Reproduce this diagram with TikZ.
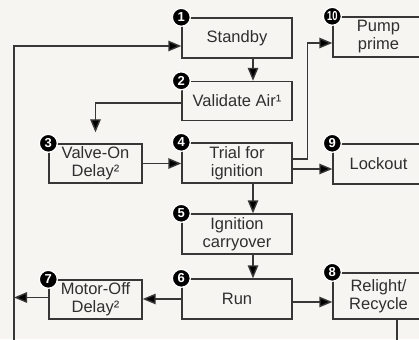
\documentclass[tikz,border=0pt]{standalone}
\usepackage{fontspec}
\usepackage{graphicx}
\setmainfont{Liberation Sans}
\usetikzlibrary{arrows.meta}
\definecolor{paper}{RGB}{246,245,242}
\definecolor{ink}{RGB}{55,55,55}
\tikzset{
  stagebox/.style={draw=ink, line width=1.4pt, fill=none, inner sep=0pt,
    align=center, font=\fontsize{16.5}{18}\selectfont, text=ink!85!black},
  badge/.style={circle, fill=black, draw=white, line width=1.3pt, inner sep=0pt,
    minimum size=18pt, text=white, font=\fontsize{13}{13}\selectfont\bfseries},
  flow/.style={draw=ink, line width=1.4pt, -{Triangle[length=13pt,width=10.5pt,fill=black]}},
  wire/.style={draw=ink, line width=1.4pt},
}
\begin{document}
\begin{tikzpicture}[x=1pt,y=-1pt]
  \fill[paper] (0,0) rectangle (419,339);
  \clip (0,0) rectangle (419,339);

  % centre column
  \node[stagebox, minimum width=110pt, minimum height=40pt] (standby)  at (237,38)  {Standby};
  \node[stagebox, minimum width=110pt, minimum height=39pt] (validate) at (237,101) {Validate Air¹};
  \node[stagebox, minimum width=110pt, minimum height=40pt] (trial)    at (237,163) {Trial for\\ignition};
  \node[stagebox, minimum width=110pt, minimum height=40pt] (ignition) at (237,234) {Ignition\\carryover};
  \node[stagebox, minimum width=110pt, minimum height=40pt] (run)      at (237,299) {Run};

  % left column
  \node[stagebox, minimum width=93pt, minimum height=39pt] (valveon)  at (95.5,163.5) {Valve-On\\Delay²};
  \node[stagebox, minimum width=93pt, minimum height=39pt] (motoroff) at (95.5,299.5) {Motor-Off\\Delay²};

  % right column
  \node[stagebox, minimum width=91pt, minimum height=40pt] (pump)    at (378.5,37)  {Pump\\prime};
  \node[stagebox, minimum width=91pt, minimum height=40pt] (lockout) at (378.5,164) {Lockout};
  \node[stagebox, minimum width=91pt, minimum height=46pt] (relight) at (378.5,296) {Relight/\\Recycle};

  % helper points
  \coordinate (col) at (253,0);
  \coordinate (bus) at (14,0);
  \coordinate (busbot) at (14,350);
  \coordinate (rdrop) at (397,350);

  % connectors
  \draw[flow] (standby.south -| col) -- (validate.north -| col);
  \draw[flow, shorten >=11pt] ([yshift=-2pt]validate.west) -| (valveon.north);
  \draw[flow] (valveon.east) -- (valveon.east -| trial.west);
  \draw[flow] (trial.south -| col) -- (ignition.north -| col);
  \draw[flow] (ignition.south -| col) -- (run.north -| col);
  \draw[flow] (run.west) -- (run.west -| motoroff.east);
  \draw[flow] ([yshift=2pt]motoroff.west) -- ([yshift=2pt]motoroff.west -| bus);
  \draw[flow] (busbot) |- ([yshift=-8pt]standby.west);
  \draw[flow] ([yshift=4pt]trial.east) -- ++(15,0) |- ([yshift=-6pt]pump.west);
  \draw[flow] ([yshift=-6pt]trial.east) -- ([yshift=-6pt]trial.east -| lockout.west);
  \draw[flow] ([yshift=-3pt]run.east) -- ([yshift=-3pt]run.east -| relight.west);
  \draw[wire] (relight.south -| rdrop) -- (rdrop);

  % step numbers
  \node[badge] (b1)  at (standby.north west)  {1};
  \node[badge] (b2)  at (validate.north west) {2};
  \node[badge] (b3)  at (valveon.north west)  {3};
  \node[badge] (b4)  at (trial.north west)    {4};
  \node[badge] (b5)  at (ignition.north west) {5};
  \node[badge] (b6)  at (run.north west)      {6};
  \node[badge] (b7)  at (motoroff.north west) {7};
  \node[badge] (b8)  at (relight.north west)  {8};
  \node[badge] (b9)  at (lockout.north west)  {9};
  \node[badge] (b10) at (pump.north west)     {\scalebox{0.72}[1]{10}};
\end{tikzpicture}
\end{document}
